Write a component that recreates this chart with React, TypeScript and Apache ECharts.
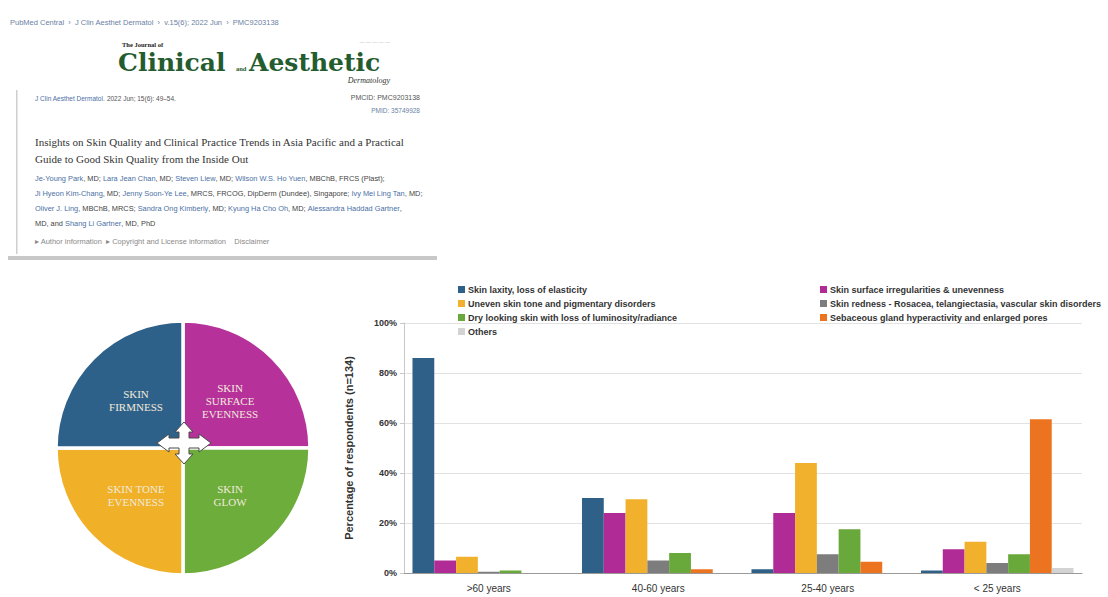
import React, { useEffect, useRef } from "react";
import * as echarts from "echarts";

// ---- Data ----
const categories = [">60 years", "40-60 years", "25-40 years", "< 25 years"];
const seriesNames = [
  "Skin laxity, loss of elasticity",
  "Skin surface irregularities & unevenness",
  "Uneven skin tone and pigmentary disorders",
  "Skin redness - Rosacea, telangiectasia, vascular skin disorders",
  "Dry looking skin with loss of luminosity/radiance",
  "Sebaceous gland hyperactivity and enlarged pores",
  "Others",
];
const laxity = [86, 30, 1.5, 1];
const surface = [5, 24, 24, 9.5];
const unevenTone = [6.5, 29.5, 44, 12.5];
const redness = [0.5, 5, 7.5, 4];
const dryLooking = [1, 8, 17.5, 7.5];
const sebaceous = [0, 1.5, 4.5, 61.5];
const others = [0, 0, 0, 2];
const yTicks = [0, 20, 40, 60, 80, 100];

const quadrantLabels = ["SKIN\nSURFACE\nEVENNESS", "SKIN\nGLOW", "SKIN TONE\nEVENNESS", "SKIN\nFIRMNESS"];
const quadrantValues = [1, 1, 1, 1];

const barColors = ["#2f6088", "#b12b96", "#f1b12d", "#7d7d7d", "#69a93c", "#ec7420", "#d3d3d3"];
const quadrantColors = ["#b7319b", "#6cad3b", "#f0b028", "#2e6189"];

const titleLines = [
  "Insights on Skin Quality and Clinical Practice Trends in Asia Pacific and a Practical",
  "Guide to Good Skin Quality from the Inside Out",
];
const authorLines = [
  "{a|Je-Young Park}{b|, MD;} {a|Lara Jean Chan}{b|, MD;} {a|Steven Liew}{b|, MD;} {a|Wilson W.S. Ho Yuen}{b|, MBChB, FRCS (Plast);}",
  "{a|Ji Hyeon Kim-Chang}{b|, MD;} {a|Jenny Soon-Ye Lee}{b|, MRCS, FRCOG, DipDerm (Dundee), Singapore;} {a|Ivy Mei Ling Tan}{b|, MD;}",
  "{a|Oliver J. Ling}{b|, MBChB, MRCS;} {a|Sandra Ong Kimberly}{b|, MD;} {a|Kyung Ha Cho Oh}{b|, MD;} {a|Alessandra Haddad Gartner}{b|,}",
  "{b|MD, and} {a|Shang Li Gartner}{b|, MD, PhD}",
];

const narrow = '"Liberation Sans Narrow", "Liberation Sans", Arial, sans-serif';

export default function App() {
  const ref = useRef<HTMLDivElement>(null);

  useEffect(() => {
    if (!ref.current) return;
    const chart = echarts.init(ref.current, undefined, { renderer: "svg" });

    const seriesData = [laxity, surface, unevenTone, redness, dryLooking, sebaceous, others];

    const barSeries = seriesData.map((d, i) => ({
      type: "bar",
      name: seriesNames[i],
      data: d,
      barGap: "0%",
      barCategoryGap: "10%",
      itemStyle: { color: barColors[i] },
      xAxisIndex: 0,
      yAxisIndex: 0,
    }));

    const cx = 184;
    const cy = 443;
    const h = 27;
    const v = 21;
    const a = 5;
    const hw = 9;
    const dh = 15;
    const dv = 11;
    const star = [
      [0, -v], [hw, -dv], [a, -dv], [a, -a], [dh, -a], [dh, -hw], [h, 0], [dh, hw], [dh, a], [a, a], [a, dv], [hw, dv],
      [0, v], [-hw, dv], [-a, dv], [-a, a], [-dh, a], [-dh, hw], [-h, 0], [-dh, -hw], [-dh, -a], [-a, -a], [-a, -dv], [-hw, -dv],
    ];

    const headerGraphics: any[] = [
      { type: "rect", shape: { x: 8, y: 0, width: 429, height: 258 }, style: { fill: "#ffffff" }, z: 0 },
      { type: "rect", shape: { x: 8, y: 256, width: 429, height: 4 }, style: { fill: "#c8c8c8" }, z: 1 },
      { type: "rect", shape: { x: 16, y: 90, width: 1.5, height: 164 }, style: { fill: "#cfcfcf" }, z: 1 },
      {
        type: "text",
        x: 10,
        y: 22,
        style: {
          text: "PubMed Central  ›  J Clin Aesthet Dermatol  ›  v.15(6); 2022 Jun  ›  PMC9203138",
          fill: "#6b7fa3",
          fontSize: 7.5,
          fontFamily: "Liberation Sans",
          verticalAlign: "middle",
        },
        z: 2,
      },
      {
        type: "text",
        x: 122,
        y: 44,
        style: { text: "The Journal of", fill: "#222", fontSize: 6.5, fontWeight: "bold", fontFamily: "Liberation Serif", verticalAlign: "middle" },
        z: 2,
      },
      {
        type: "text",
        x: 118,
        y: 62,
        style: { text: "Clinical", fill: "#245c30", fontSize: 25, fontWeight: "bold", fontFamily: "DejaVu Serif", verticalAlign: "middle" },
        z: 2,
      },
      {
        type: "text",
        x: 236,
        y: 68,
        style: { text: "and", fill: "#245c30", fontSize: 6.5, fontWeight: "bold", fontFamily: "Liberation Serif", verticalAlign: "middle" },
        z: 2,
      },
      {
        type: "text",
        x: 249,
        y: 62,
        style: { text: "Aesthetic", fill: "#245c30", fontSize: 25, fontWeight: "bold", fontFamily: "DejaVu Serif", verticalAlign: "middle" },
        z: 2,
      },
      {
        type: "text",
        x: 390,
        y: 80,
        style: { text: "Dermatology", fill: "#333", fontSize: 8, fontStyle: "italic", fontFamily: "Liberation Serif", align: "right", verticalAlign: "middle" },
        z: 2,
      },
      {
        type: "text",
        x: 390,
        y: 42,
        style: { text: "— — — — —", fill: "#bbb", fontSize: 5, fontFamily: "Liberation Sans", align: "right", verticalAlign: "middle" },
        z: 2,
      },
      {
        type: "text",
        x: 35,
        y: 98,
        style: {
          text: "{a|J Clin Aesthet Dermatol.}{b| 2022 Jun; 15(6): 49–54.}",
          fontFamily: "Liberation Sans",
          fontSize: 6.5,
          verticalAlign: "middle",
          rich: {
            a: { fill: "#4a6fa5", fontSize: 6.5, fontFamily: "Liberation Sans", textDecoration: "underline" },
            b: { fill: "#555", fontSize: 6.5, fontFamily: "Liberation Sans" },
          },
        },
        z: 2,
      },
      {
        type: "text",
        x: 420,
        y: 97,
        style: { text: "PMCID: PMC9203138", fill: "#555", fontSize: 7, fontFamily: "Liberation Sans", align: "right", verticalAlign: "middle" },
        z: 2,
      },
      {
        type: "text",
        x: 420,
        y: 110,
        style: { text: "PMID: 35749928", fill: "#6b7fa3", fontSize: 6.5, fontFamily: "Liberation Sans", align: "right", verticalAlign: "middle" },
        z: 2,
      },
      ...titleLines.map((t, i) => ({
        type: "text",
        x: 35,
        y: 142 + i * 17,
        style: { text: t, fill: "#333", fontSize: 11, fontFamily: "Liberation Serif", verticalAlign: "middle" },
        z: 2,
      })),
      ...authorLines.map((t, i) => ({
        type: "text",
        x: 35,
        y: 178 + i * 15,
        style: {
          text: t,
          fontFamily: "Liberation Sans",
          fontSize: 7.4,
          verticalAlign: "middle",
          rich: {
            a: { fill: "#4a6fa5", fontSize: 7.4, fontFamily: "Liberation Sans" },
            b: { fill: "#444", fontSize: 7.4, fontFamily: "Liberation Sans" },
          },
        },
        z: 2,
      })),
      {
        type: "text",
        x: 35,
        y: 241,
        style: {
          text: "▸ Author information  ▸ Copyright and License information    Disclaimer",
          fill: "#8a8a8a",
          fontSize: 7.5,
          fontFamily: "Liberation Sans",
          verticalAlign: "middle",
        },
        z: 2,
      },
      {
        type: "polygon",
        x: cx,
        y: cy,
        shape: { points: star },
        style: { fill: "#ffffff", stroke: "#4a4a4a", lineWidth: 1 },
        z: 100,
      },
    ];

    const legendText = { fontSize: 9, lineHeight: 11, fontWeight: "bold", color: "#333", fontFamily: narrow, padding: [0, 0, 0, -2] };

    const option: any = {
      animation: false,
      backgroundColor: "#ffffff",
      graphic: headerGraphics,
      legend: [
        {
          data: [seriesNames[0], seriesNames[2], seriesNames[4], seriesNames[6]],
          orient: "vertical",
          left: 453,
          top: 279,
          itemWidth: 7,
          itemHeight: 7,
          itemGap: 3,
          icon: "rect",
          selectedMode: false,
          textStyle: legendText,
        },
        {
          data: [seriesNames[1], seriesNames[3], seriesNames[5]],
          orient: "vertical",
          left: 815,
          top: 279,
          itemWidth: 7,
          itemHeight: 7,
          itemGap: 3,
          icon: "rect",
          selectedMode: false,
          textStyle: legendText,
        },
      ],
      grid: { left: 404, right: 26, top: 323, bottom: 24, containLabel: false },
      xAxis: {
        type: "category",
        data: categories,
        axisLine: { lineStyle: { color: "#9a9a9a", width: 1 } },
        axisTick: { show: false },
        axisLabel: { fontSize: 10, color: "#333", fontFamily: narrow, margin: 10 },
      },
      yAxis: {
        type: "value",
        min: yTicks[0],
        max: yTicks[yTicks.length - 1],
        interval: 20,
        name: "Percentage of respondents (n=134)",
        nameLocation: "middle",
        nameRotate: 90,
        nameGap: 50,
        nameTextStyle: { fontSize: 11, fontWeight: "bold", color: "#333", fontFamily: narrow },
        axisLine: { show: true, lineStyle: { color: "#c8c8c8" } },
        axisTick: { show: true, length: 4, lineStyle: { color: "#c8c8c8" } },
        axisLabel: { formatter: "{value}%", fontSize: 9, fontWeight: "bold", color: "#333", fontFamily: narrow, margin: 7 },
        splitLine: { lineStyle: { color: "#e2e2e2" } },
      },
      series: [
        ...barSeries,
        {
          type: "pie",
          center: [183, 448],
          radius: [0, 127],
          startAngle: 90,
          clockwise: true,
          silent: true,
          data: quadrantValues.map((v, i) => ({
            value: v,
            name: quadrantLabels[i],
            itemStyle: { color: quadrantColors[i] },
          })),
          itemStyle: { borderColor: "#ffffff", borderWidth: 3.5 },
          label: {
            show: true,
            position: "inner",
            formatter: "{b}",
            color: "#f2eadb",
            fontSize: 11,
            lineHeight: 13,
            fontFamily: "Liberation Serif",
          },
          labelLine: { show: false },
        },
      ],
    };

    chart.setOption(option);
    return () => chart.dispose();
  }, []);

  return (
    <div
      ref={ref}
      style={{ position: "fixed", left: 0, top: 0, width: 1108, height: 597, background: "#fff" }}
    />
  );
}
